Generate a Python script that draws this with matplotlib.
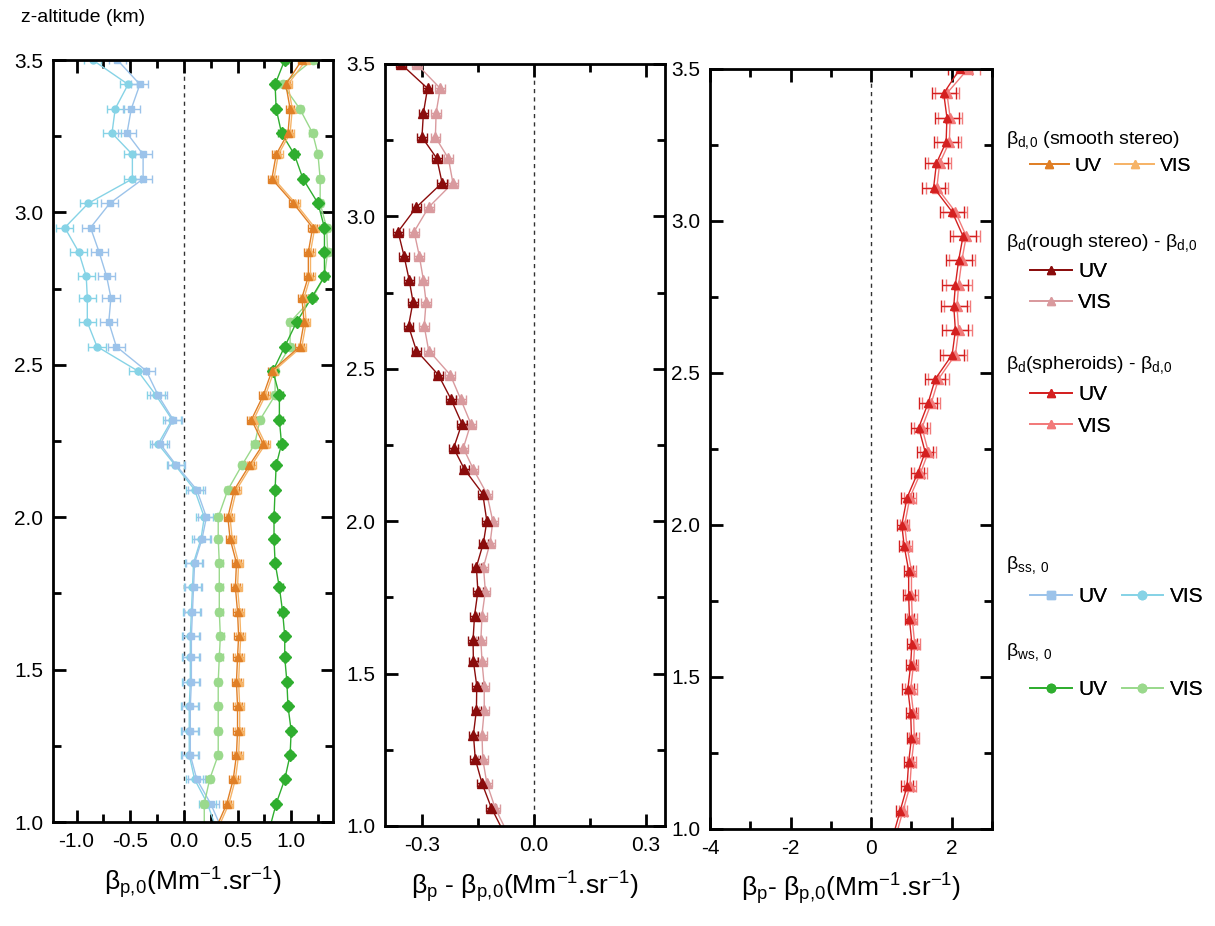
import matplotlib
matplotlib.use("Agg")
import matplotlib.pyplot as plt
from matplotlib.lines import Line2D
from matplotlib.ticker import MultipleLocator, FixedLocator

plt.rcParams['font.family'] = ['Liberation Sans', 'DejaVu Sans']
plt.rcParams['mathtext.fontset'] = 'custom'
plt.rcParams['mathtext.rm'] = 'Liberation Sans'
plt.rcParams['mathtext.it'] = 'Liberation Sans'
plt.rcParams['mathtext.default'] = 'regular'
plt.rcParams['axes.unicode_minus'] = False

# altitude levels (km), top to bottom
z = [3.50, 3.42, 3.34, 3.26, 3.19, 3.11, 3.03, 2.95, 2.87, 2.79, 2.72,
     2.64, 2.56, 2.48, 2.40, 2.32, 2.24, 2.17, 2.09, 2.00, 1.93, 1.85,
     1.77, 1.69, 1.61, 1.54, 1.46, 1.38, 1.30, 1.22, 1.14, 1.06, 0.98]

# left panel: beta_p,0
ss_uv = [-0.62, -0.41, -0.49, -0.53, -0.38, -0.38, -0.69, -0.87, -0.79, -0.72, -0.68,
         -0.70, -0.63, -0.35, -0.24, -0.10, -0.22, -0.07, 0.12, 0.21, 0.17, 0.10,
         0.09, 0.08, 0.07, 0.07, 0.07, 0.06, 0.06, 0.06, 0.12, 0.25, 0.35]
ss_vis = [-0.85, -0.52, -0.64, -0.67, -0.48, -0.48, -0.89, -1.11, -0.98, -0.91, -0.90,
          -0.90, -0.81, -0.43, -0.26, -0.11, -0.24, -0.08, 0.10, 0.19, 0.16, 0.09,
          0.08, 0.07, 0.06, 0.06, 0.06, 0.05, 0.05, 0.05, 0.10, 0.22, 0.30]
smooth_uv = [1.10, 0.95, 0.99, 0.97, 0.86, 0.82, 1.02, 1.20, 1.16, 1.16, 1.10,
             1.12, 1.08, 0.82, 0.74, 0.63, 0.74, 0.61, 0.47, 0.41, 0.43, 0.49,
             0.48, 0.50, 0.51, 0.50, 0.49, 0.50, 0.50, 0.49, 0.46, 0.40, 0.30]
smooth_vis = [1.14, 0.97, 1.01, 0.99, 0.88, 0.84, 1.04, 1.22, 1.18, 1.18, 1.12,
              1.14, 1.10, 0.84, 0.76, 0.65, 0.76, 0.63, 0.49, 0.43, 0.45, 0.51,
              0.50, 0.52, 0.53, 0.52, 0.51, 0.52, 0.52, 0.51, 0.48, 0.42, 0.32]
ws_uv = [0.94, 0.85, 0.86, 0.91, 1.03, 1.11, 1.25, 1.31, 1.31, 1.31, 1.19,
         1.05, 0.94, 0.83, 0.89, 0.89, 0.91, 0.86, 0.85, 0.84, 0.84, 0.85,
         0.89, 0.92, 0.94, 0.94, 0.96, 0.97, 1.00, 0.99, 0.94, 0.86, 0.80]
ws_vis = [1.20, 0.92, 1.08, 1.20, 1.25, 1.27, 1.27, 1.33, 1.34, 1.31, 1.20,
          0.99, 0.99, 0.85, 0.85, 0.71, 0.66, 0.54, 0.41, 0.32, 0.32, 0.33,
          0.33, 0.33, 0.34, 0.33, 0.32, 0.32, 0.32, 0.32, 0.24, 0.19, 0.19]

# middle panel: rough stereo - smooth stereo
rough_uv = [-0.357, -0.286, -0.297, -0.301, -0.261, -0.247, -0.316, -0.365, -0.349, -0.335, -0.325,
            -0.337, -0.316, -0.257, -0.223, -0.194, -0.216, -0.187, -0.138, -0.127, -0.136, -0.155,
            -0.151, -0.160, -0.164, -0.163, -0.154, -0.155, -0.163, -0.158, -0.140, -0.115, -0.082]
rough_vis = [-0.315, -0.252, -0.263, -0.265, -0.230, -0.218, -0.283, -0.322, -0.308, -0.297, -0.290,
             -0.295, -0.283, -0.225, -0.197, -0.170, -0.190, -0.163, -0.127, -0.111, -0.118, -0.136,
             -0.131, -0.140, -0.143, -0.140, -0.134, -0.134, -0.140, -0.138, -0.127, -0.105, -0.073]

# right panel: spheroids - smooth stereo
sph_uv = [2.20, 1.80, 1.88, 1.86, 1.62, 1.55, 2.01, 2.28, 2.17, 2.09, 2.05,
          2.09, 2.01, 1.59, 1.41, 1.18, 1.34, 1.15, 0.89, 0.76, 0.82, 0.93,
          0.93, 0.95, 1.01, 0.98, 0.91, 0.98, 1.00, 0.93, 0.89, 0.72, 0.55]
sph_vis = [2.40, 1.88, 1.96, 1.94, 1.70, 1.63, 2.09, 2.36, 2.25, 2.17, 2.13,
           2.17, 2.09, 1.67, 1.49, 1.26, 1.42, 1.22, 0.96, 0.83, 0.89, 1.00,
           1.00, 1.02, 1.08, 1.05, 0.98, 1.05, 1.07, 1.00, 0.96, 0.79, 0.62]
sph_err = [0.30, 0.30, 0.30, 0.30, 0.28, 0.28, 0.30, 0.33, 0.32, 0.32, 0.32,
           0.32, 0.30, 0.25, 0.22, 0.20, 0.20, 0.16, 0.14, 0.12, 0.12, 0.12,
           0.15, 0.12, 0.12, 0.12, 0.15, 0.12, 0.12, 0.12, 0.14, 0.10, 0.10]

c_ss_uv, c_ss_vis = '#9cc3ea', '#86d3e6'
c_sm_uv, c_sm_vis = '#e07f26', '#f6b468'
c_ws_uv, c_ws_vis = '#2fae2f', '#9ad98c'
c_ro_uv, c_ro_vis = '#8a0c0c', '#d99a9e'
c_sp_uv, c_sp_vis = '#d42020', '#f27a7a'

fig = plt.figure(figsize=(12.15, 9.26), dpi=100)
ax1 = fig.add_axes([0.0436, 0.1123, 0.2305, 0.8229])
ax2 = fig.add_axes([0.3169, 0.1080, 0.2305, 0.8229])
ax3 = fig.add_axes([0.5844, 0.1048, 0.2321, 0.8207])


def series(ax, x, err, color, marker, ms=6, lw=1.0, cap=3):
    ax.errorbar(x, z, xerr=err, color=color, marker=marker, ms=ms, lw=lw,
                elinewidth=1.0, capsize=cap, capthick=1.0)


series(ax1, ss_vis, 0.08, c_ss_vis, 'o', 5)
series(ax1, ss_uv, 0.08, c_ss_uv, 's', 5)
series(ax1, ws_vis, 0.03, c_ws_vis, 'o', 6)
series(ax1, ws_uv, 0.03, c_ws_uv, 'D', 6)
series(ax1, smooth_vis, 0.04, c_sm_vis, '^', 6)
series(ax1, smooth_uv, 0.04, c_sm_uv, '^', 6)

series(ax2, rough_vis, 0.013, c_ro_vis, '^', 7)
series(ax2, rough_uv, 0.013, c_ro_uv, '^', 7)

series(ax3, sph_vis, sph_err, c_sp_vis, '^', 7, cap=4)
series(ax3, sph_uv, sph_err, c_sp_uv, '^', 6, cap=4)

for ax in (ax1, ax2, ax3):
    ax.axvline(0, color='#333333', ls=(0, (3, 3)), lw=1.0, zorder=0)
    ax.set_ylim(1.0, 3.5)
    ax.yaxis.set_major_locator(MultipleLocator(0.5))
    ax.yaxis.set_minor_locator(MultipleLocator(0.25))
    ax.yaxis.set_major_formatter('{x:.1f}')
    ax.tick_params(which='both', direction='in', top=True, right=True,
                   width=2, labelsize=15, pad=7)
    ax.tick_params(which='major', length=9)
    ax.tick_params(which='minor', length=6)
    for s in ax.spines.values():
        s.set_linewidth(2)

ax1.set_xlim(-1.22, 1.39)
ax1.xaxis.set_major_locator(MultipleLocator(0.5))
ax1.xaxis.set_minor_locator(MultipleLocator(0.25))
ax1.xaxis.set_major_formatter('{x:.1f}')

ax2.set_xlim(-0.40, 0.351)
ax2.xaxis.set_major_locator(FixedLocator([-0.3, 0.0, 0.3]))
ax2.xaxis.set_minor_locator(FixedLocator([-0.15, 0.15]))
ax2.xaxis.set_major_formatter('{x:.1f}')

ax3.set_xlim(-4, 3)
ax3.xaxis.set_major_locator(FixedLocator([-4, -2, 0, 2]))
ax3.xaxis.set_minor_locator(FixedLocator([-3, -1, 1, 3]))
ax3.xaxis.set_major_formatter('{x:.0f}')

unit = r'(Mm$^{-1}$.sr$^{-1}$)'
ax1.set_xlabel(r'$\beta_{p,\!0}$' + unit, fontsize=19, labelpad=10)
ax2.set_xlabel(r'$\beta_{p}$ - $\beta_{p,\!0}$' + unit, fontsize=19, labelpad=10)
ax3.set_xlabel(r'$\beta_{p}$- $\beta_{p,\!0}$' + unit, fontsize=19, labelpad=10)

fig.text(0.017, 0.981, 'z-altitude (km)', fontsize=14, va='center', ha='left')


def h(color, marker):
    return Line2D([], [], color=color, marker=marker, ms=6, lw=1.3)


def group(title, ty, handles, ncol, ly, size):
    fig.text(1006 / 1215, 1 - ty / 926, title, fontsize=14, va='center', ha='left')
    leg = fig.legend(handles, ['UV', 'VIS'], ncol=ncol, frameon=False,
                     loc='upper left', bbox_to_anchor=(1030 / 1215, 1 - ly / 926),
                     fontsize=size, handlelength=2.0, handletextpad=0.3,
                     borderpad=0, borderaxespad=0, labelspacing=0.6,
                     columnspacing=0.7)
    fig.add_artist(leg)


group(r'$\beta_{d,\!0}$ (smooth stereo)', 140,
      [h(c_sm_uv, '^'), h(c_sm_vis, '^')], 2, 157, 14)
group(r'$\beta_{d}$(rough stereo) - $\beta_{d,\!0}$', 243,
      [h(c_ro_uv, '^'), h(c_ro_vis, '^')], 1, 262, 15)
group(r'$\beta_{d}$(spheroids) - $\beta_{d,\!0}$', 365,
      [h(c_sp_uv, '^'), h(c_sp_vis, '^')], 1, 385, 15)
group(r'$\beta_{ss,\ 0}$', 565,
      [h(c_ss_uv, 's'), h(c_ss_vis, 'o')], 2, 587, 15)
group(r'$\beta_{ws,\ 0}$', 652,
      [h(c_ws_uv, 'o'), h(c_ws_vis, 'o')], 2, 680, 15)

fig.savefig('out.png', dpi=100)
